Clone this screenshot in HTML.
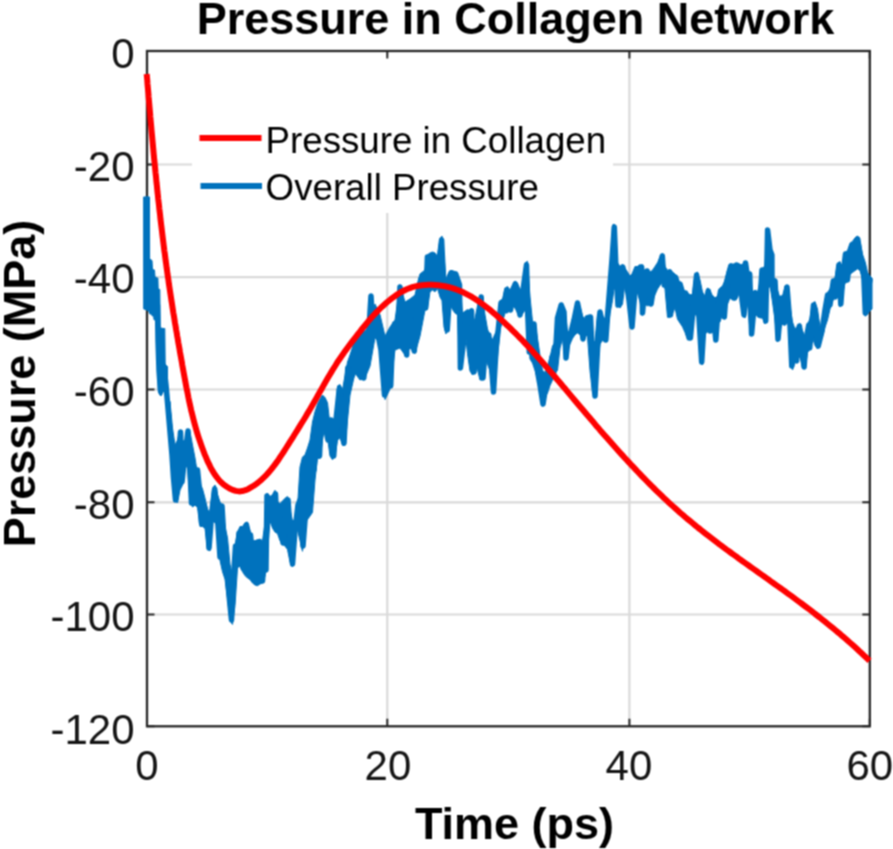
<!DOCTYPE html>
<html><head><meta charset="utf-8"><style>
html,body{margin:0;padding:0;background:#fff;}
svg{display:block;}
#w{width:893px;height:849px;overflow:hidden;}
text{font-family:"Liberation Sans",sans-serif;}
</style></head><body><div id="w">
<svg width="893" height="849" viewBox="0 0 893 849">
<filter id="sf" x="0" y="0" width="893" height="849" filterUnits="userSpaceOnUse" color-interpolation-filters="sRGB"><feConvolveMatrix order="3" kernelMatrix="0.0625 0.1250 0.0625 0.1250 0.2500 0.1250 0.0625 0.1250 0.0625" edgeMode="duplicate"/></filter>
<g filter="url(#sf)">
<rect width="893" height="849" fill="#fff"/>
<line x1="387.3" y1="51.0" x2="387.3" y2="726.3" stroke="#d9d9d9" stroke-width="2.2"/>
<line x1="629.4" y1="51.0" x2="629.4" y2="726.3" stroke="#d9d9d9" stroke-width="2.2"/>
<line x1="147.0" y1="164.5" x2="869.8" y2="164.5" stroke="#d9d9d9" stroke-width="2.2"/>
<line x1="147.0" y1="277.2" x2="869.8" y2="277.2" stroke="#d9d9d9" stroke-width="2.2"/>
<line x1="147.0" y1="389.5" x2="869.8" y2="389.5" stroke="#d9d9d9" stroke-width="2.2"/>
<line x1="147.0" y1="502.3" x2="869.8" y2="502.3" stroke="#d9d9d9" stroke-width="2.2"/>
<line x1="147.0" y1="614.5" x2="869.8" y2="614.5" stroke="#d9d9d9" stroke-width="2.2"/>
<rect x="192" y="56" width="421" height="157" fill="#fff"/>
<path d="M147.0,726.3 v-7.5 M147.0,51.0 v7.5 M387.3,726.3 v-7.5 M387.3,51.0 v7.5 M629.4,726.3 v-7.5 M629.4,51.0 v7.5 M869.8,726.3 v-7.5 M869.8,51.0 v7.5 M147.0,51.0 h7.5 M869.8,51.0 h-7.5 M147.0,164.5 h7.5 M869.8,164.5 h-7.5 M147.0,277.2 h7.5 M869.8,277.2 h-7.5 M147.0,389.5 h7.5 M869.8,389.5 h-7.5 M147.0,502.3 h7.5 M869.8,502.3 h-7.5 M147.0,614.5 h7.5 M869.8,614.5 h-7.5 M147.0,726.3 h7.5 M869.8,726.3 h-7.5" stroke="#262626" stroke-width="2" fill="none"/>
<rect x="147.0" y="51.0" width="722.8" height="675.3" fill="none" stroke="#262626" stroke-width="2.3"/>
<g fill="#0072BD" stroke="#0072BD" stroke-width="5.5" stroke-linejoin="round" stroke-linecap="round">
<path d="M144.0,197.0 L149.5,197.0 L149.6,259.0 L152.0,260.5 L152.5,269.5 L154.5,270.0 L155.0,277.0 L156.4,277.5 L157.5,278.0 L157.9,278.0 L158.2,289.0 L158.5,289.0 L159.8,289.5 L160.2,328.0 L161.5,328.0 L163.0,328.5 L164.8,328.5 L165.2,364.5 L167.5,366.5 L167.5,403.0 L165.2,389.5 L164.8,390.0 L163.0,392.0 L161.5,395.5 L160.2,395.5 L159.8,395.0 L158.5,392.0 L158.2,385.0 L157.9,372.0 L157.5,362.0 L156.4,330.0 L155.0,316.0 L154.5,315.0 L152.5,313.5 L152.0,313.0 L149.6,311.5 L149.5,311.0 L144.0,309.0Z M170.0,401.8 L172.5,428.0 L175.0,445.0 L177.5,440.0 L180.0,430.0 L182.5,440.0 L185.0,442.0 L187.5,430.0 L190.0,432.0 L192.5,445.0 L195.0,458.0 L197.5,473.8 L200.0,483.2 L202.5,488.8 L205.0,498.2 L207.5,509.5 L210.0,513.3 L212.5,488.8 L215.0,485.0 L217.5,494.5 L220.0,502.0 L222.5,505.8 L225.0,526.5 L227.5,537.8 L230.0,564.2 L232.5,575.5 L235.0,545.3 L237.5,532.1 L240.0,526.5 L242.5,526.5 L245.0,522.7 L247.5,522.0 L250.0,530.0 L252.5,540.7 L255.0,540.7 L257.5,540.0 L260.0,539.0 L262.5,540.7 L265.0,523.0 L267.0,493.0 L270.0,496.5 L272.5,494.7 L275.0,490.3 L277.5,501.8 L280.0,503.6 L282.5,501.0 L285.0,498.3 L287.5,496.5 L290.0,509.0 L292.5,521.0 L295.0,519.5 L297.5,507.0 L300.0,467.0 L302.5,457.0 L305.0,455.0 L307.5,448.0 L310.0,440.0 L312.5,422.0 L315.0,411.8 L317.5,404.0 L320.0,398.9 L322.5,395.0 L325.0,397.6 L327.5,402.7 L330.0,424.8 L332.5,430.0 L335.0,432.5 L337.5,385.9 L340.0,384.6 L342.5,389.8 L345.0,375.5 L347.5,362.0 L350.0,355.0 L355.0,339.5 L360.0,334.0 L365.0,330.7 L370.0,327.0 L375.0,304.0 L380.0,314.8 L385.0,336.0 L390.0,327.0 L395.0,320.0 L400.0,284.7 L405.0,302.0 L410.0,299.0 L415.0,295.0 L420.0,274.0 L425.0,270.0 L427.5,254.7 L430.0,253.0 L432.5,252.0 L435.0,253.0 L437.5,256.5 L440.0,238.8 L442.0,236.0 L444.0,256.5 L446.0,279.5 L448.0,274.0 L450.0,270.6 L452.5,270.6 L455.0,272.4 L457.5,279.5 L460.0,283.0 L462.5,313.0 L465.0,311.3 L467.5,309.5 L470.0,311.3 L472.5,325.4 L475.0,318.3 L477.5,306.0 L480.0,295.4 L482.5,297.0 L485.0,314.8 L487.5,329.0 L490.0,336.0 L492.5,339.5 L495.0,334.0 L497.5,329.0 L500.0,300.7 L502.5,299.0 L505.0,288.3 L507.5,286.5 L510.0,290.0 L512.5,284.8 L515.0,281.0 L517.5,283.0 L520.0,289.5 L522.5,287.7 L525.0,263.0 L527.5,261.3 L530.0,297.0 L532.5,321.6 L535.0,323.4 L537.5,338.5 L540.0,355.5 L542.5,370.5 L545.0,372.4 L547.5,366.8 L550.0,357.3 L552.5,346.0 L555.0,342.3 L557.5,316.0 L560.0,304.6 L562.5,304.6 L565.0,310.3 L567.5,331.0 L570.0,332.9 L572.5,329.0 L575.0,325.3 L577.5,302.7 L580.0,306.5 L582.5,316.0 L585.0,319.7 L587.5,321.6 L590.0,316.0 L592.5,344.0 L595.0,340.4 L597.5,314.0 L600.0,312.0 L602.5,316.0 L605.0,319.0 L607.5,304.0 L610.0,285.3 L612.5,225.0 L614.0,224.0 L615.5,227.0 L617.5,262.7 L620.0,266.5 L622.5,264.6 L625.0,268.4 L627.5,272.0 L630.0,276.0 L632.0,274.0 L635.0,266.5 L637.5,266.5 L640.0,264.6 L642.5,268.4 L645.0,270.3 L647.5,270.3 L650.0,272.0 L652.5,270.3 L655.0,266.5 L657.5,262.7 L660.0,257.0 L662.5,253.3 L665.0,266.5 L667.5,270.3 L670.0,270.3 L672.5,272.0 L675.0,274.0 L677.5,281.6 L680.0,285.3 L682.5,289.0 L685.0,291.0 L687.5,292.9 L690.0,294.7 L692.5,294.7 L695.0,274.0 L697.5,272.0 L700.0,280.0 L702.5,292.0 L705.0,296.0 L707.5,288.0 L710.0,290.0 L712.5,296.0 L715.0,298.0 L717.5,296.0 L720.0,288.0 L722.5,286.0 L725.0,280.0 L727.5,270.0 L730.0,264.0 L732.5,264.0 L735.0,264.0 L737.5,264.0 L740.0,266.0 L742.5,264.0 L745.0,262.0 L747.5,270.0 L750.0,280.0 L752.5,292.0 L755.0,290.0 L757.5,292.0 L760.0,282.0 L762.5,268.0 L765.0,266.0 L767.5,228.0 L770.0,250.0 L772.5,276.0 L775.0,280.0 L777.5,290.0 L780.0,298.0 L782.5,296.0 L785.0,286.0 L787.5,286.0 L790.0,306.0 L792.5,322.0 L795.0,329.0 L797.5,326.0 L800.0,323.5 L802.5,330.8 L805.0,336.3 L807.5,325.4 L810.0,318.0 L812.5,303.5 L815.0,301.6 L817.5,309.0 L820.0,327.0 L822.5,325.4 L825.0,301.6 L827.5,292.5 L830.0,288.9 L832.5,279.7 L835.0,278.0 L837.5,263.3 L840.0,261.5 L842.5,270.6 L845.0,252.4 L847.5,250.5 L850.0,243.2 L852.5,241.4 L855.0,237.8 L857.5,236.0 L860.0,241.4 L862.5,254.2 L865.0,261.5 L867.5,272.4 L870.0,276.0 L872.0,278.0 L872.0,309.0 L870.0,310.8 L867.5,314.4 L865.0,316.2 L862.5,279.7 L860.0,270.6 L857.5,268.8 L855.0,270.6 L852.5,272.4 L850.0,274.3 L847.5,281.6 L845.0,283.4 L842.5,294.3 L840.0,307.0 L837.5,294.3 L835.0,296.2 L832.5,301.6 L830.0,309.0 L827.5,320.0 L825.0,327.2 L822.5,336.3 L820.0,341.8 L817.5,349.0 L815.0,345.4 L812.5,338.0 L810.0,349.0 L807.5,352.7 L805.0,369.0 L802.5,367.3 L800.0,356.4 L797.5,360.0 L795.0,362.0 L792.5,370.0 L790.0,350.0 L787.5,310.0 L785.0,322.0 L782.5,322.0 L780.0,330.0 L777.5,342.0 L775.0,320.0 L772.5,302.0 L770.0,286.0 L767.5,290.0 L765.0,324.0 L762.5,318.0 L760.0,318.0 L757.5,316.0 L755.0,314.0 L752.5,336.0 L750.0,330.0 L747.5,304.0 L745.0,318.0 L742.5,314.0 L740.0,290.0 L737.5,298.0 L735.0,300.0 L732.5,300.0 L730.0,298.0 L727.5,304.0 L725.0,308.0 L722.5,314.0 L720.0,322.0 L717.5,322.0 L715.0,342.0 L712.5,316.0 L710.0,302.0 L707.5,332.0 L705.0,334.0 L702.5,365.0 L700.0,362.0 L697.5,311.7 L695.0,315.5 L692.5,323.0 L690.0,340.0 L687.5,340.0 L685.0,332.4 L682.5,326.8 L680.0,323.0 L677.5,319.2 L675.0,308.0 L672.5,313.6 L670.0,317.3 L667.5,317.3 L665.0,289.0 L662.5,281.6 L660.0,285.3 L657.5,289.0 L655.0,294.7 L652.5,300.4 L650.0,304.0 L647.5,306.0 L645.0,304.0 L642.5,315.5 L640.0,302.3 L637.5,292.9 L635.0,292.9 L632.0,326.8 L630.0,315.5 L627.5,285.3 L625.0,283.4 L622.5,304.0 L620.0,308.0 L617.5,304.0 L615.5,289.0 L614.0,289.0 L612.5,300.4 L610.0,313.6 L607.5,330.5 L605.0,341.8 L602.5,340.4 L600.0,344.0 L597.5,363.0 L595.0,397.0 L592.5,393.0 L590.0,370.5 L587.5,336.6 L585.0,334.7 L582.5,338.5 L580.0,334.7 L577.5,332.9 L575.0,334.7 L572.5,338.5 L570.0,344.0 L567.5,348.0 L565.0,359.2 L562.5,338.5 L560.0,348.0 L557.5,370.5 L555.0,372.4 L552.5,380.0 L550.0,385.6 L547.5,393.0 L545.0,397.0 L542.5,406.3 L540.0,393.0 L537.5,378.0 L535.0,370.5 L532.5,363.0 L530.0,359.0 L527.5,325.3 L525.0,310.0 L522.5,314.0 L520.0,316.0 L517.5,313.0 L515.0,308.0 L512.5,306.0 L510.0,309.5 L507.5,313.0 L505.0,313.0 L502.5,322.0 L500.0,329.0 L497.5,357.0 L495.0,371.0 L492.5,392.0 L490.0,371.0 L487.5,364.0 L485.0,353.7 L482.5,380.0 L480.0,380.0 L477.5,369.6 L475.0,367.8 L472.5,375.0 L470.0,371.0 L467.5,353.7 L465.0,329.0 L462.5,357.0 L460.0,369.6 L457.5,314.8 L455.0,313.0 L452.5,309.5 L450.0,304.0 L448.0,309.5 L446.0,334.0 L444.0,327.0 L442.0,300.7 L440.0,297.0 L437.5,288.3 L435.0,291.8 L432.5,290.0 L430.0,291.8 L427.5,309.5 L425.0,310.0 L420.0,336.0 L415.0,353.6 L410.0,348.0 L405.0,355.0 L400.0,348.0 L395.0,350.0 L390.0,389.0 L385.0,399.6 L380.0,343.0 L375.0,337.7 L370.0,366.0 L365.0,378.0 L360.0,380.0 L355.0,373.0 L350.0,395.0 L347.5,420.0 L345.0,445.5 L342.5,445.5 L340.0,437.7 L337.5,440.3 L335.0,455.9 L332.5,459.7 L330.0,455.9 L327.5,437.7 L325.0,424.8 L322.5,440.3 L320.0,458.4 L317.5,458.0 L315.0,480.0 L312.5,512.4 L310.0,516.0 L307.5,519.5 L305.0,523.0 L302.5,551.3 L300.0,540.7 L297.5,530.0 L295.0,528.0 L292.5,567.0 L290.0,562.0 L287.5,549.5 L285.0,546.0 L282.5,544.0 L280.0,540.7 L277.5,533.6 L275.0,532.0 L272.5,528.0 L270.0,521.0 L267.0,558.0 L265.0,576.0 L262.5,583.0 L260.0,584.0 L257.5,585.7 L255.0,585.0 L252.5,583.0 L250.0,579.5 L247.5,578.0 L245.0,575.5 L242.5,571.7 L240.0,566.0 L237.5,568.0 L235.0,605.6 L232.5,624.4 L230.0,620.7 L227.5,598.0 L225.0,579.2 L222.5,571.7 L220.0,560.4 L217.5,526.5 L215.0,522.7 L212.5,520.8 L210.0,551.0 L207.5,549.0 L205.0,528.4 L202.5,526.5 L200.0,526.5 L197.5,507.7 L195.0,505.0 L192.5,507.0 L190.0,500.0 L187.5,468.0 L185.0,465.0 L182.5,485.0 L180.0,490.0 L177.5,503.0 L175.0,500.0 L172.5,463.7 L170.0,439.0Z" stroke-width="1"/>
<path d="M147.0,199.0 L147.5,306.0 L148.5,262.0 L149.5,309.0 L150.5,271.0 L151.5,312.0 L153.0,279.0 L154.0,314.0 L155.0,290.0 L156.0,318.0 L157.5,305.0 L158.0,340.0 L159.0,370.0 L160.5,391.0 L162.5,364.0 L164.0,367.0 L166.0,385.0 L169.0,420.0 L172.0,455.0 L173.5,478.0 L175.5,500.0 L178.0,470.0 L180.5,432.0 L182.0,482.0 L185.0,455.0 L188.0,431.0 L190.0,470.0 L191.5,503.0 L195.0,480.0 L197.5,470.0 L199.5,490.0 L201.5,523.0 L204.0,505.0 L207.0,515.0 L209.0,548.0 L212.0,510.0 L214.7,489.0 L217.0,510.0 L220.0,557.0 L222.0,506.0 L224.0,540.0 L226.0,560.0 L229.0,595.0 L231.5,620.0 L234.0,570.0 L235.5,546.0 L237.0,560.0 L239.0,533.0 L241.0,555.0 L243.0,568.0 L246.5,525.0 L248.0,545.0 L250.5,535.0 L253.0,560.0 L256.0,581.0 L258.0,542.0 L260.0,560.0 L262.5,581.0 L264.0,560.0 L266.0,570.0 L267.0,496.0 L270.0,520.0 L272.0,510.0 L275.5,494.0 L277.0,530.0 L280.0,520.0 L283.0,543.0 L285.0,520.0 L288.0,500.0 L290.0,530.0 L292.5,564.0 L295.0,530.0 L298.0,505.0 L300.0,500.0 L302.0,530.0 L303.0,546.0 L305.0,520.0 L306.0,505.0 L308.0,512.0 L310.0,470.0 L311.0,490.0 L312.5,450.0 L314.0,470.0 L316.0,440.0 L319.5,456.0 L321.0,420.0 L323.3,400.0 L326.0,430.0 L328.0,440.0 L331.0,420.0 L333.7,456.0 L336.0,420.0 L339.3,389.0 L341.0,420.0 L344.0,443.0 L346.0,400.0 L347.8,368.0 L350.0,380.0 L353.4,373.0 L355.3,355.0 L358.0,365.0 L361.0,372.0 L363.8,378.0 L366.0,350.0 L368.0,345.0 L371.0,296.0 L373.0,330.0 L375.5,318.0 L378.0,335.0 L381.0,350.0 L384.5,395.0 L387.0,350.0 L388.8,343.0 L390.7,386.0 L392.5,340.0 L394.5,324.0 L397.3,346.0 L400.0,287.0 L403.0,320.0 L406.7,355.0 L407.7,305.0 L410.0,320.0 L414.3,351.0 L417.0,300.0 L420.8,279.0 L423.0,290.0 L425.5,308.0 L427.4,257.0 L430.0,262.0 L434.0,256.0 L435.0,288.0 L438.0,270.0 L441.6,240.0 L444.0,290.0 L447.2,330.0 L451.0,273.0 L455.7,274.0 L459.5,285.0 L460.4,368.0 L465.0,330.0 L468.9,313.0 L471.5,311.0 L472.0,330.0 L474.0,372.0 L477.0,330.0 L481.2,297.0 L483.0,378.0 L486.0,340.0 L488.8,335.0 L491.0,360.0 L493.5,392.0 L496.0,350.0 L498.2,330.0 L501.0,303.0 L504.0,310.0 L506.7,290.0 L508.5,300.0 L510.5,310.0 L513.0,295.0 L515.2,284.0 L518.0,305.0 L520.0,315.0 L523.0,290.0 L526.5,265.0 L528.0,320.0 L529.3,352.0 L532.0,335.0 L534.0,324.0 L536.0,350.0 L537.8,373.0 L540.0,385.0 L543.0,404.0 L546.0,385.0 L549.0,377.0 L552.0,357.0 L554.0,372.0 L556.0,345.0 L557.5,318.0 L561.2,305.0 L564.0,312.0 L566.0,358.0 L568.0,340.0 L571.0,332.0 L574.0,320.0 L577.5,303.0 L580.0,315.0 L583.0,339.0 L587.0,318.0 L590.5,317.0 L592.5,360.0 L595.0,396.0 L598.0,340.0 L600.0,312.0 L603.0,325.0 L605.8,340.0 L608.0,310.0 L609.5,291.0 L612.0,260.0 L614.3,227.0 L616.0,270.0 L618.0,305.0 L620.0,280.0 L622.7,267.0 L626.5,283.0 L629.0,300.0 L632.0,327.0 L635.0,290.0 L637.8,269.0 L641.6,267.0 L642.5,313.0 L645.0,285.0 L647.2,271.0 L649.0,290.0 L651.0,304.0 L654.0,285.0 L657.0,275.0 L660.0,265.0 L662.3,256.0 L664.2,285.0 L667.0,275.0 L669.8,272.0 L670.5,315.0 L673.0,285.0 L675.5,277.0 L678.0,285.0 L680.0,284.0 L683.0,294.0 L685.6,293.0 L688.0,315.0 L690.4,338.0 L693.0,310.0 L696.6,275.0 L698.8,315.0 L701.7,362.0 L704.5,315.0 L708.2,291.0 L710.0,331.0 L712.0,298.0 L715.8,340.0 L718.0,310.0 L720.5,291.0 L722.0,300.0 L724.3,317.0 L727.0,281.0 L730.8,266.0 L734.6,298.0 L736.5,265.0 L740.3,267.0 L742.0,300.0 L744.0,315.0 L745.5,263.0 L748.0,280.0 L749.7,274.0 L751.6,334.0 L755.3,293.0 L759.1,315.0 L762.0,270.0 L765.7,321.0 L767.6,230.0 L770.0,250.0 L771.9,255.0 L772.0,285.0 L775.0,281.0 L778.0,339.0 L781.6,298.0 L784.3,323.0 L787.0,287.0 L790.0,325.0 L791.8,366.0 L794.0,340.0 L796.5,361.0 L799.4,326.0 L802.0,350.0 L804.1,367.0 L806.0,340.0 L808.8,325.0 L809.7,348.0 L813.5,305.0 L816.0,330.0 L818.2,346.0 L822.0,331.0 L825.0,310.0 L827.6,295.0 L830.0,305.0 L833.3,281.0 L835.1,297.0 L838.9,265.0 L840.8,304.0 L843.0,275.0 L845.5,254.0 L847.4,280.0 L850.0,255.0 L852.1,245.0 L855.0,260.0 L857.7,239.0 L860.6,258.0 L863.4,265.0 L865.3,313.0 L868.0,290.0 L870.0,280.0" fill="none"/>
</g>
<path d="M146.7,74.0 L147.0,77.3 L147.3,80.6 L147.5,83.9 L147.8,87.2 L148.1,90.4 L148.4,93.7 L148.6,97.0 L148.9,100.3 L149.2,103.6 L149.5,106.9 L149.8,110.2 L150.1,113.5 L150.3,116.7 L150.6,120.0 L150.9,123.3 L151.2,126.6 L151.5,129.9 L151.8,133.2 L152.1,136.4 L152.4,139.7 L152.7,143.0 L153.0,146.3 L153.3,149.6 L153.6,152.9 L153.9,156.1 L154.2,159.4 L154.6,162.7 L154.9,166.0 L155.2,169.3 L155.5,172.5 L155.9,175.8 L156.2,179.1 L156.5,182.4 L156.9,185.7 L157.2,188.9 L157.5,192.2 L157.9,195.5 L158.2,198.8 L158.6,202.0 L159.0,205.3 L159.3,208.6 L159.7,211.9 L160.1,215.1 L160.4,218.4 L160.8,221.7 L161.2,225.0 L161.6,228.2 L162.0,231.5 L162.4,234.8 L162.8,238.1 L163.2,241.3 L163.6,244.6 L164.0,247.9 L164.4,251.1 L164.9,254.4 L165.3,257.7 L165.7,261.0 L166.2,264.2 L166.6,267.5 L167.1,270.8 L167.5,274.0 L168.0,277.3 L168.5,280.6 L168.9,283.8 L169.4,287.1 L169.9,290.4 L170.4,293.6 L170.9,296.9 L171.4,300.2 L171.9,303.4 L172.4,306.7 L172.9,310.0 L173.4,313.2 L174.0,316.5 L174.5,319.7 L175.0,323.0 L175.6,326.3 L176.1,329.5 L176.7,332.8 L177.2,336.0 L177.8,339.3 L178.3,342.5 L178.9,345.8 L179.5,349.0 L180.0,352.3 L180.6,355.5 L181.2,358.8 L181.8,362.0 L182.3,365.2 L182.9,368.5 L183.5,371.7 L184.1,375.0 L184.7,378.2 L185.3,381.4 L185.9,384.7 L186.5,387.9 L187.2,391.1 L187.8,394.3 L188.4,397.5 L189.1,400.8 L189.8,404.0 L190.5,407.2 L191.2,410.4 L192.0,413.6 L192.8,416.8 L193.6,420.0 L194.4,423.1 L195.3,426.3 L196.2,429.5 L197.1,432.6 L198.1,435.8 L199.1,438.9 L200.2,442.1 L201.3,445.2 L202.4,448.3 L203.6,451.5 L204.8,454.6 L206.1,457.7 L207.4,460.8 L208.9,463.8 L210.3,466.8 L211.9,469.8 L213.6,472.6 L215.4,475.4 L217.4,478.0 L219.4,480.5 L221.7,482.8 L224.1,484.9 L226.8,486.8 L229.6,488.5 L232.6,489.9 L235.8,490.9 L239.1,491.4 L242.3,491.1 L245.4,490.2 L248.4,488.9 L251.3,487.2 L254.1,485.5 L256.8,483.6 L259.4,481.5 L261.8,479.4 L264.2,477.1 L266.5,474.8 L268.7,472.4 L270.8,469.8 L272.9,467.3 L274.9,464.6 L276.9,461.9 L278.8,459.2 L280.6,456.4 L282.5,453.6 L284.3,450.8 L286.1,448.0 L287.9,445.2 L289.6,442.4 L291.4,439.6 L293.2,436.8 L294.9,434.0 L296.7,431.2 L298.4,428.4 L300.1,425.6 L301.8,422.8 L303.6,420.0 L305.3,417.2 L306.9,414.4 L308.6,411.6 L310.3,408.8 L311.9,406.0 L313.6,403.1 L315.2,400.3 L316.8,397.4 L318.4,394.5 L320.1,391.6 L321.7,388.8 L323.3,385.9 L324.9,383.0 L326.6,380.1 L328.2,377.3 L329.9,374.4 L331.6,371.6 L333.3,368.8 L335.1,366.0 L336.8,363.2 L338.6,360.4 L340.5,357.7 L342.4,355.0 L344.2,352.3 L346.2,349.6 L348.1,347.0 L350.1,344.3 L352.1,341.7 L354.1,339.1 L356.1,336.5 L358.1,333.9 L360.2,331.3 L362.2,328.7 L364.3,326.2 L366.4,323.6 L368.5,321.1 L370.7,318.6 L372.9,316.1 L375.1,313.7 L377.4,311.3 L379.7,309.0 L382.1,306.7 L384.5,304.5 L387.0,302.3 L389.5,300.2 L392.1,298.1 L394.8,296.2 L397.5,294.3 L400.3,292.5 L403.2,291.0 L406.2,289.5 L409.2,288.3 L412.3,287.2 L415.4,286.4 L418.6,285.7 L421.9,285.2 L425.2,284.9 L428.5,284.7 L431.8,284.7 L435.1,284.9 L438.4,285.2 L441.7,285.7 L445.0,286.3 L448.3,287.0 L451.5,287.9 L454.6,288.9 L457.7,290.0 L460.7,291.3 L463.7,292.6 L466.6,294.1 L469.5,295.6 L472.3,297.2 L475.1,299.0 L477.8,300.8 L480.5,302.6 L483.2,304.6 L485.8,306.6 L488.4,308.6 L491.0,310.7 L493.5,312.9 L496.0,315.0 L498.5,317.2 L501.0,319.5 L503.4,321.7 L505.8,324.0 L508.2,326.2 L510.6,328.5 L512.9,330.8 L515.3,333.2 L517.6,335.5 L519.9,337.9 L522.2,340.2 L524.5,342.6 L526.7,345.0 L529.0,347.4 L531.2,349.8 L533.4,352.3 L535.6,354.7 L537.8,357.1 L540.0,359.6 L542.2,362.1 L544.4,364.5 L546.5,367.0 L548.7,369.5 L550.8,372.0 L553.0,374.5 L555.1,377.0 L557.2,379.5 L559.4,382.0 L561.5,384.5 L563.6,387.1 L565.8,389.6 L567.9,392.1 L570.0,394.6 L572.1,397.1 L574.3,399.7 L576.4,402.2 L578.5,404.7 L580.6,407.2 L582.8,409.8 L584.9,412.3 L587.0,414.8 L589.2,417.3 L591.3,419.8 L593.5,422.3 L595.6,424.9 L597.8,427.4 L599.9,429.9 L602.1,432.4 L604.3,434.9 L606.4,437.3 L608.6,439.8 L610.8,442.3 L613.0,444.8 L615.2,447.2 L617.4,449.7 L619.6,452.2 L621.8,454.6 L624.0,457.1 L626.3,459.5 L628.5,461.9 L630.7,464.3 L633.0,466.7 L635.3,469.1 L637.5,471.5 L639.8,473.9 L642.1,476.3 L644.4,478.6 L646.7,481.0 L649.0,483.3 L651.3,485.7 L653.7,488.0 L656.0,490.3 L658.4,492.6 L660.8,494.9 L663.1,497.2 L665.5,499.4 L667.9,501.7 L670.4,503.9 L672.8,506.1 L675.2,508.3 L677.7,510.5 L680.1,512.7 L682.6,514.8 L685.1,517.0 L687.6,519.1 L690.2,521.2 L692.7,523.3 L695.2,525.4 L697.8,527.5 L700.4,529.5 L703.0,531.6 L705.5,533.6 L708.2,535.7 L710.8,537.7 L713.4,539.7 L716.0,541.7 L718.6,543.7 L721.3,545.6 L723.9,547.6 L726.6,549.6 L729.3,551.5 L731.9,553.5 L734.6,555.4 L737.3,557.3 L739.9,559.3 L742.6,561.2 L745.3,563.1 L748.0,565.0 L750.7,567.0 L753.4,568.9 L756.1,570.8 L758.8,572.7 L761.5,574.6 L764.2,576.5 L766.8,578.4 L769.5,580.3 L772.2,582.3 L774.9,584.2 L777.6,586.1 L780.3,588.0 L782.9,589.9 L785.6,591.8 L788.3,593.8 L790.9,595.7 L793.6,597.7 L796.2,599.6 L798.9,601.6 L801.5,603.5 L804.1,605.5 L806.8,607.5 L809.4,609.4 L812.0,611.4 L814.6,613.5 L817.2,615.5 L819.8,617.5 L822.4,619.6 L825.0,621.6 L827.5,623.7 L830.1,625.8 L832.7,627.9 L835.2,630.0 L837.7,632.1 L840.3,634.2 L842.8,636.4 L845.3,638.5 L847.8,640.7 L850.2,642.9 L852.7,645.1 L855.2,647.3 L857.6,649.5 L860.0,651.8 L862.4,654.0 L864.8,656.3 L867.2,658.5 L869.5,660.8" fill="none" stroke="#FF0000" stroke-width="6.0" stroke-linejoin="round" stroke-linecap="butt"/>
<line x1="199.5" y1="138" x2="261.5" y2="138" stroke="#FF0000" stroke-width="6"/>
<line x1="200.5" y1="186" x2="262" y2="186" stroke="#0072BD" stroke-width="6"/>
<g font-size="36.7" fill="#000">
<text x="265.6" y="152.6">Pressure in Collagen</text>
<text x="265.6" y="199.8">Overall Pressure</text>
</g>
<g font-size="42" fill="#141414">
<text x="147.0" y="780.4" text-anchor="middle">0</text>
<text x="387.9" y="780.4" text-anchor="middle">20</text>
<text x="628.9" y="780.4" text-anchor="middle">40</text>
<text x="869.8" y="780.4" text-anchor="middle">60</text>
<text x="134.5" y="68.3" text-anchor="end">0</text>
<text x="134.5" y="180.9" text-anchor="end">-20</text>
<text x="134.5" y="293.4" text-anchor="end">-40</text>
<text x="134.5" y="405.9" text-anchor="end">-60</text>
<text x="134.5" y="518.5" text-anchor="end">-80</text>
<text x="134.5" y="631.0" text-anchor="end">-100</text>
<text x="134.5" y="743.6" text-anchor="end">-120</text>
</g>
<g font-size="45" font-weight="bold" fill="#000">
<text x="515.5" y="33.5" text-anchor="middle">Pressure in Collagen Network</text>
<text x="514.5" y="839" text-anchor="middle">Time (ps)</text>
<text transform="translate(34.5,383.5) rotate(-90)" text-anchor="middle">Pressure (MPa)</text>
</g>
</g>
</svg></div>
</body></html>
